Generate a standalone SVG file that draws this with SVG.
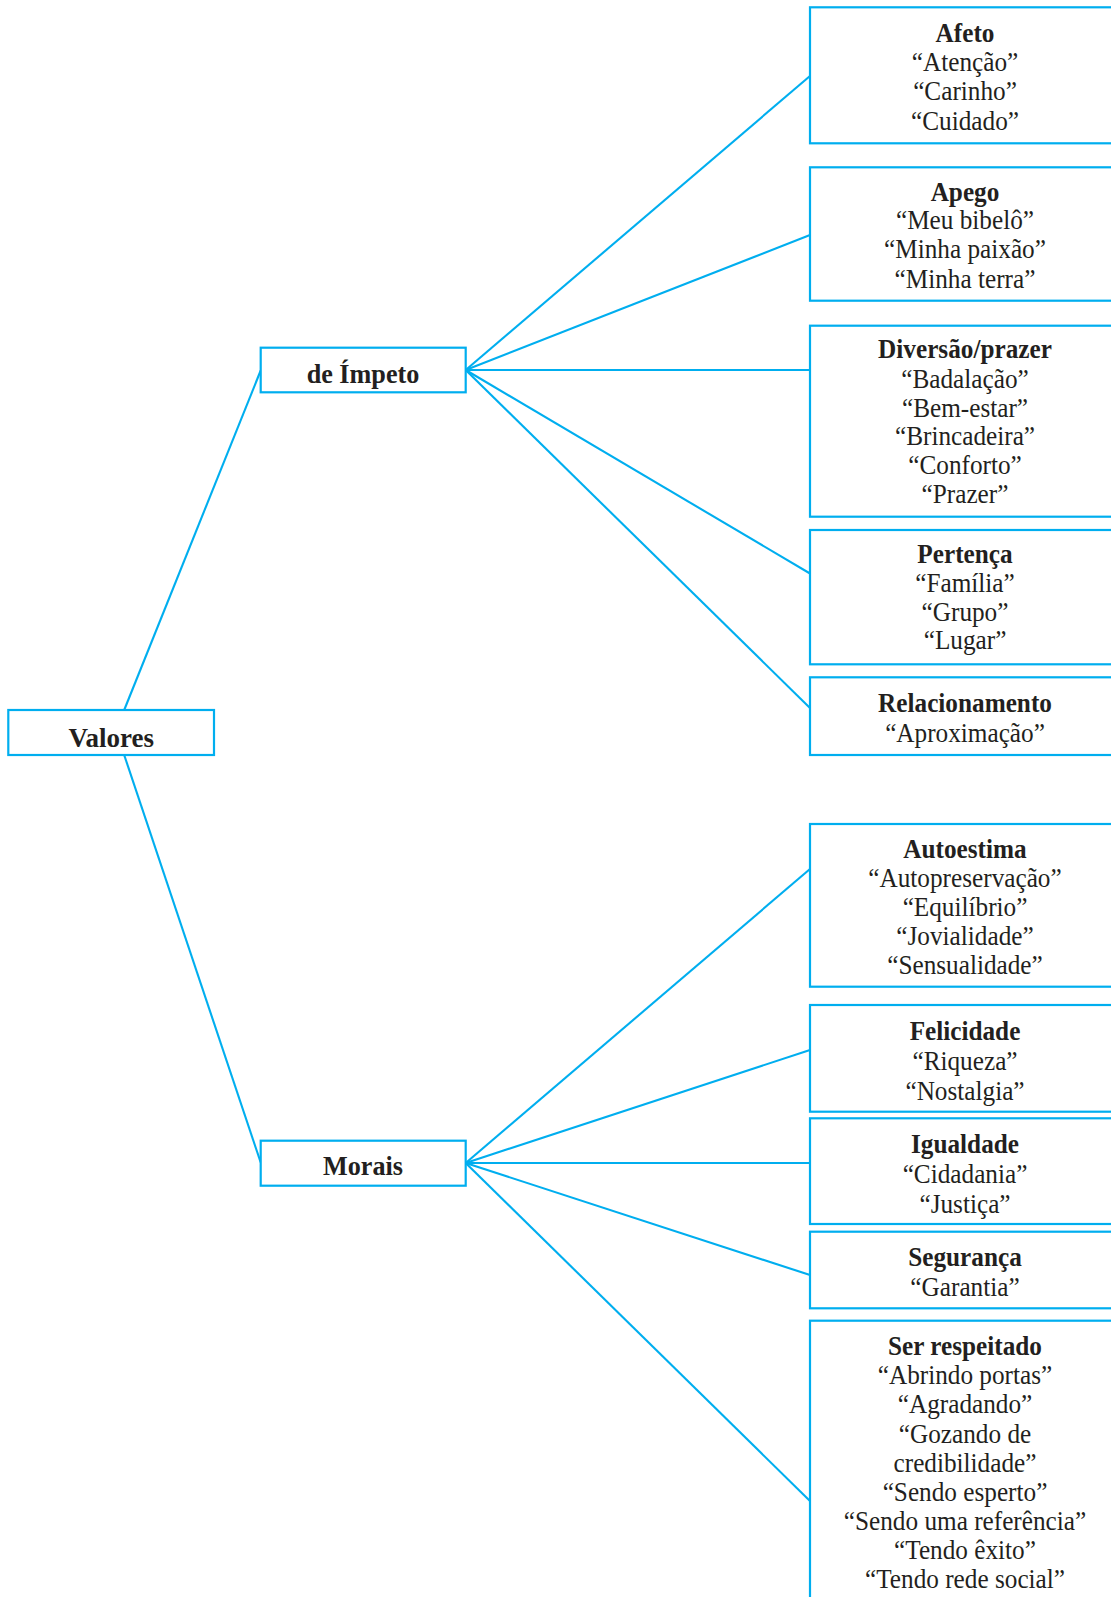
<svg xmlns="http://www.w3.org/2000/svg" width="1111" height="1597" viewBox="0 0 1111 1597">
<style>
.box{fill:#fff;stroke:#00AEEF;stroke-width:2.2}
.ln{stroke:#00AEEF;stroke-width:2.1;fill:none}
.t{font-family:"Liberation Serif","Times New Roman",serif;font-size:27px;fill:#231F20;text-anchor:middle}
.b{font-weight:bold}
</style>
<rect width="1111" height="1597" fill="#fff"/>
<g id="connectors">
<line class="ln" x1="124.2" y1="710" x2="260.7" y2="370.5"/>
<line class="ln" x1="124.2" y1="755" x2="260.7" y2="1162.5"/>
<line class="ln" x1="465.7" y1="370" x2="810" y2="76"/>
<line class="ln" x1="465.7" y1="370" x2="810" y2="235"/>
<line class="ln" x1="465.7" y1="370" x2="810" y2="370"/>
<line class="ln" x1="465.7" y1="370" x2="810" y2="573.5"/>
<line class="ln" x1="465.7" y1="370" x2="810" y2="708"/>
<line class="ln" x1="465.7" y1="1163" x2="810" y2="869"/>
<line class="ln" x1="465.7" y1="1163" x2="810" y2="1050"/>
<line class="ln" x1="465.7" y1="1163" x2="810" y2="1163"/>
<line class="ln" x1="465.7" y1="1163" x2="810" y2="1275"/>
<line class="ln" x1="465.7" y1="1163" x2="810" y2="1501"/>
</g>
<g id="valores"><rect class="box" x="8.3" y="710" width="205.7" height="45"/>
<text class="t b" transform="translate(111.2 0) scale(1.0 1)" x="0" y="746.5">Valores</text></g>
<g id="impeto"><rect class="box" x="260.7" y="347.7" width="205" height="44.6"/>
<text class="t b" transform="translate(363 0) scale(0.97 1)" x="0" y="383.5">de Ímpeto</text></g>
<g id="morais"><rect class="box" x="260.7" y="1140.7" width="205" height="45"/>
<text class="t b" transform="translate(363 0) scale(0.97 1)" x="0" y="1175.5">Morais</text></g>

<g id="afeto"><rect class="box" x="810" y="7.3" width="320" height="136"/>
<text class="t" transform="translate(965 0) scale(0.935 1)"><tspan class="b" x="0" y="41.7">Afeto</tspan><tspan x="0" y="71">“Atenção”</tspan><tspan x="0" y="100.5">“Carinho”</tspan><tspan x="0" y="130">“Cuidado”</tspan></text></g>

<g id="apego"><rect class="box" x="810" y="167.3" width="320" height="133.4"/>
<text class="t" transform="translate(965 0) scale(0.935 1)"><tspan class="b" x="0" y="200.7">Apego</tspan><tspan x="0" y="229">“Meu bibelô”</tspan><tspan x="0" y="258.3">“Minha paixão”</tspan><tspan x="0" y="287.7">“Minha terra”</tspan></text></g>

<g id="diversao"><rect class="box" x="810" y="325.7" width="320" height="191"/>
<text class="t" transform="translate(965 0) scale(0.935 1)"><tspan class="b" x="0" y="358.3">Diversão/prazer</tspan><tspan x="0" y="388.3">“Badalação”</tspan><tspan x="0" y="416.7">“Bem-estar”</tspan><tspan x="0" y="445">“Brincadeira”</tspan><tspan x="0" y="474.3">“Conforto”</tspan><tspan x="0" y="502.7">“Prazer”</tspan></text></g>

<g id="pertenca"><rect class="box" x="810" y="530" width="320" height="134.3"/>
<text class="t" transform="translate(965 0) scale(0.935 1)"><tspan class="b" x="0" y="563.3">Pertença</tspan><tspan x="0" y="591.7">“Família”</tspan><tspan x="0" y="621">“Grupo”</tspan><tspan x="0" y="649.3">“Lugar”</tspan></text></g>

<g id="relacionamento"><rect class="box" x="810" y="677.3" width="320" height="77.7"/>
<text class="t" transform="translate(965 0) scale(0.935 1)"><tspan class="b" x="0" y="712.3">Relacionamento</tspan><tspan x="0" y="741.7">“Aproximação”</tspan></text></g>

<g id="autoestima"><rect class="box" x="810" y="824" width="320" height="162.7"/>
<text class="t" transform="translate(965 0) scale(0.935 1)"><tspan class="b" x="0" y="858.3">Autoestima</tspan><tspan x="0" y="886.7">“Autopreservação”</tspan><tspan x="0" y="916">“Equilíbrio”</tspan><tspan x="0" y="945">“Jovialidade”</tspan><tspan x="0" y="974">“Sensualidade”</tspan></text></g>

<g id="felicidade"><rect class="box" x="810" y="1005" width="320" height="106.7"/>
<text class="t" transform="translate(965 0) scale(0.935 1)"><tspan class="b" x="0" y="1040">Felicidade</tspan><tspan x="0" y="1070">“Riqueza”</tspan><tspan x="0" y="1100">“Nostalgia”</tspan></text></g>

<g id="igualdade"><rect class="box" x="810" y="1118.3" width="320" height="105.7"/>
<text class="t" transform="translate(965 0) scale(0.935 1)"><tspan class="b" x="0" y="1152.7">Igualdade</tspan><tspan x="0" y="1182.7">“Cidadania”</tspan><tspan x="0" y="1213.3">“Justiça”</tspan></text></g>

<g id="seguranca"><rect class="box" x="810" y="1231.7" width="320" height="76.6"/>
<text class="t" transform="translate(965 0) scale(0.935 1)"><tspan class="b" x="0" y="1266">Segurança</tspan><tspan x="0" y="1295.7">“Garantia”</tspan></text></g>

<g id="respeitado"><rect class="box" x="810" y="1320.7" width="320" height="300"/>
<text class="t" transform="translate(965 0) scale(0.935 1)"><tspan class="b" x="0" y="1355">Ser respeitado</tspan><tspan x="0" y="1384">“Abrindo portas”</tspan><tspan x="0" y="1413.3">“Agradando”</tspan><tspan x="0" y="1442.7">“Gozando de</tspan><tspan x="0" y="1471.7">credibilidade”</tspan><tspan x="0" y="1501">“Sendo esperto”</tspan><tspan x="0" y="1530">“Sendo uma referência”</tspan><tspan x="0" y="1559.3">“Tendo êxito”</tspan><tspan x="0" y="1588.3">“Tendo rede social”</tspan></text></g>
</svg>
